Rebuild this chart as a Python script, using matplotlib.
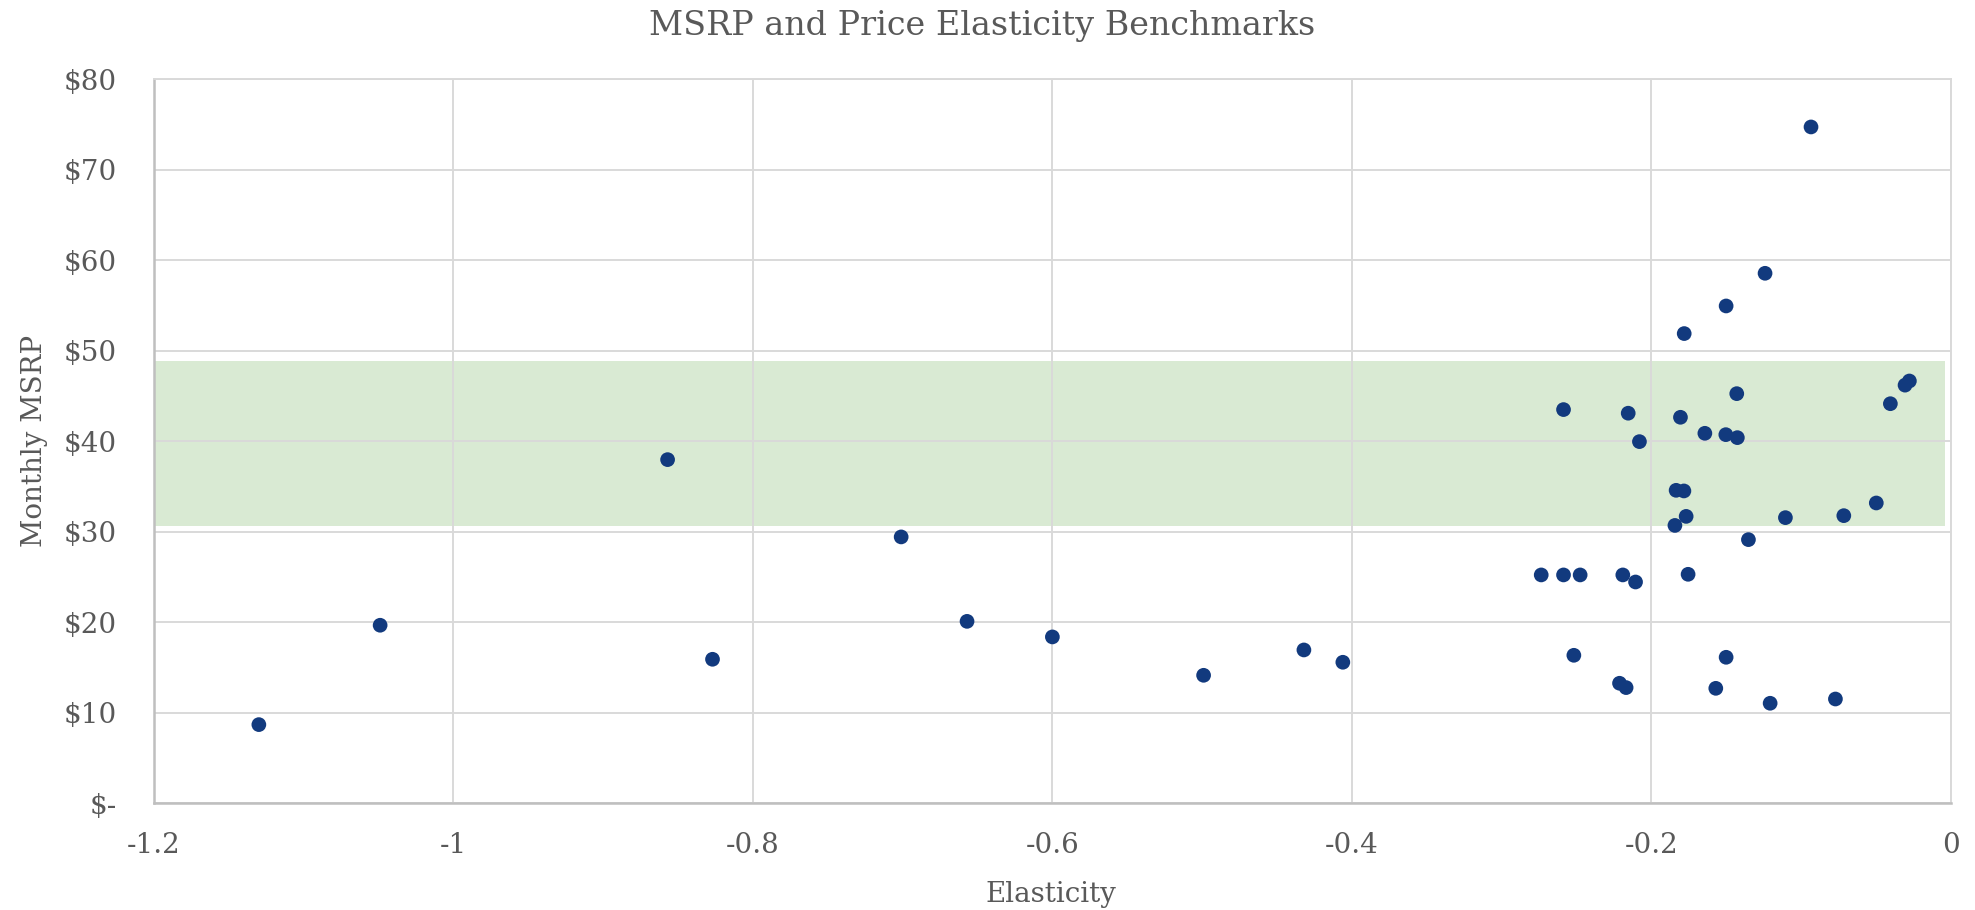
import matplotlib
matplotlib.use("Agg")
import matplotlib.pyplot as plt
from matplotlib.ticker import FuncFormatter, MultipleLocator

# elasticity vs monthly msrp
elasticity = [
    -1.130, -1.049, -0.857, -0.827, -0.701, -0.657, -0.600, -0.499, -0.432, -0.406,
    -0.2735, -0.2586, -0.2586, -0.2517, -0.2475, -0.2212, -0.219, -0.2168, -0.2154, -0.2105,
    -0.2079, -0.1842, -0.1834, -0.1805, -0.1782, -0.178, -0.1767, -0.1754, -0.1642, -0.1569,
    -0.1502, -0.150, -0.150, -0.1429, -0.1425, -0.1351, -0.124, -0.1206, -0.1104, -0.0933,
    -0.077, -0.0714, -0.0497, -0.0403, -0.0305, -0.0276,
]
msrp = [
    8.69, 19.67, 37.97, 15.91, 29.43, 20.10, 18.38, 14.14, 16.94, 15.58,
    25.23, 43.50, 25.23, 16.35, 25.23, 13.26, 25.23, 12.78, 43.10, 24.45,
    39.96, 30.70, 34.58, 42.65, 34.51, 51.90, 31.70, 25.30, 40.88, 12.70,
    40.73, 54.95, 16.13, 45.26, 40.40, 29.13, 58.56, 11.05, 31.56, 74.73,
    11.52, 31.78, 33.18, 44.15, 46.20, 46.66,
]

# benchmark band
band_x = [-1.2, -0.0036]
band_low = [30.67, 30.67]
band_high = [48.87, 48.87]

x_ticks = [-1.2, -1.0, -0.8, -0.6, -0.4, -0.2, 0.0]
x_tick_labels = ["-1.2", "-1", "-0.8", "-0.6", "-0.4", "-0.2", "0"]

text_col = "#595959"
grid_col = "#d9d9d9"

plt.rcParams["font.family"] = ["DejaVu Serif"]

fig = plt.figure(figsize=(19.75, 9.1), dpi=100)
ax = fig.add_axes([0.078, 0.1173, 0.9097, 0.7956])

ax.fill_between(band_x, band_low, band_high, color="#d9ead3", linewidth=0, zorder=0.2)
ax.scatter(elasticity, msrp, s=112, color="#123a7e", edgecolors="none", zorder=3)

ax.set_xlim(-1.2, 0)
ax.set_ylim(0, 80)
ax.set_xticks(x_ticks)
ax.set_xticklabels(x_tick_labels)
ax.yaxis.set_major_locator(MultipleLocator(10))
ax.yaxis.set_major_formatter(FuncFormatter(lambda v, p: "$-" if v == 0 else "$%d" % v))

ax.set_axisbelow(True)
ax.grid(True, color=grid_col, linewidth=1.4)
for side in ["top", "right"]:
    ax.spines[side].set_color(grid_col)
    ax.spines[side].set_linewidth(1.4)
for side in ["left", "bottom"]:
    ax.spines[side].set_color("#bfbfbf")
    ax.spines[side].set_linewidth(1.8)

ax.tick_params(axis="both", length=0, labelsize=20, labelcolor=text_col)
ax.tick_params(axis="y", pad=27)
ax.tick_params(axis="x", pad=21)

# titles placed on the figure like the excel layout
fig.text(0.5322, 0.0091, "Elasticity", ha="center", va="baseline",
         fontsize=20, color=text_col)
fig.text(0.0213, 0.5154, "Monthly MSRP", ha="center", va="baseline", rotation=90,
         rotation_mode="anchor", fontsize=20, color=text_col)
fig.text(0.4975, 0.9615, "MSRP and Price Elasticity Benchmarks", ha="center", va="baseline",
         fontsize=24, color=text_col)

fig.savefig("out.png", dpi=100)
